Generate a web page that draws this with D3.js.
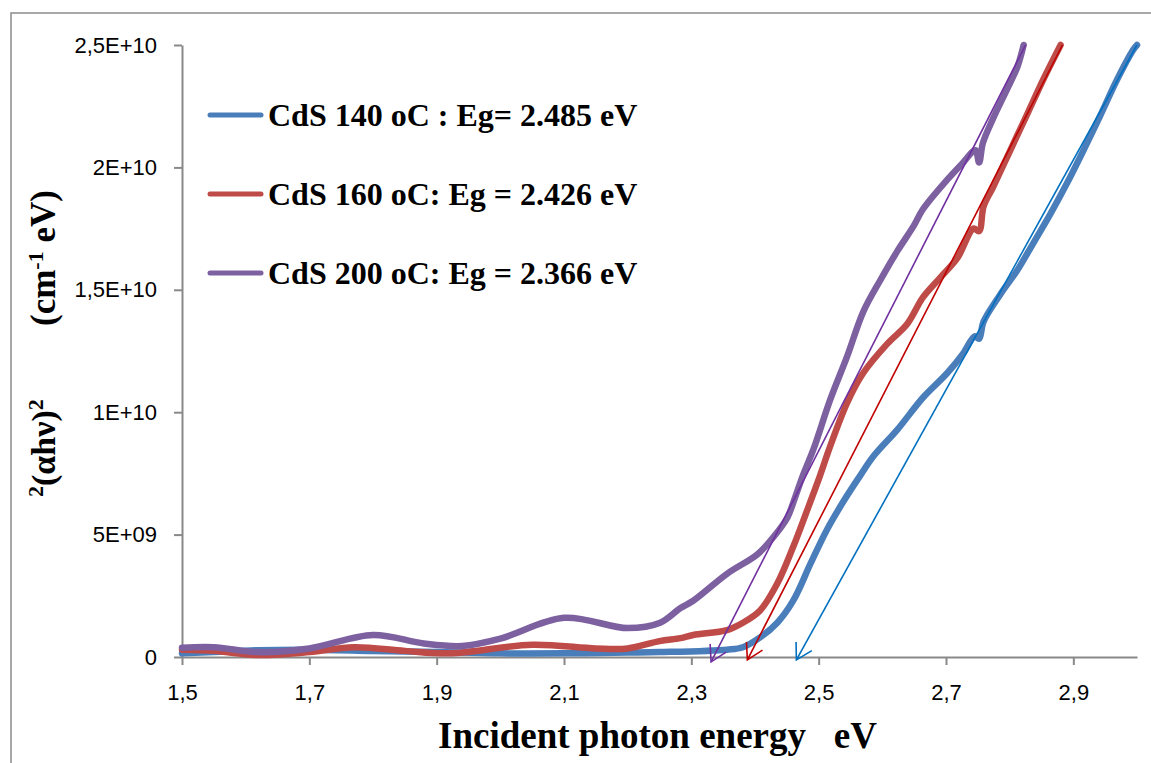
<!DOCTYPE html>
<html>
<head>
<meta charset="utf-8">
<script src="https://cdn.jsdelivr.net/npm/d3@7"></script>
<style>
  html, body { margin: 0; padding: 0; background: #fff; }
  svg { display: block; }
</style>
</head>
<body>
<svg id="chart" width="1151" height="763"></svg>
<script>
// ---------------- DATA ----------------
const seriesNames = ["CdS 140 oC : Eg= 2.485 eV", "CdS 160 oC: Eg = 2.426 eV", "CdS 200 oC: Eg = 2.366 eV"];
const seriesColors = ["#4A7EBB", "#BE4B48", "#7D60A0"];

// CdS 140 oC
const energy140 = [1.50,1.55,1.62,1.70,1.80,1.90,2.00,2.10,2.20,2.25,2.356,2.381,2.408,2.435,2.46,2.487,2.513,2.54,2.565,2.586,2.624,2.664,2.702,2.727,2.745,2.752,2.759,2.785,2.812,2.837,2.864,2.891,2.916,2.942,2.969,2.994,3.0];
const alpha140  = [1.5e8,2.0e8,2.8e8,3.0e8,2.5e8,2.0e8,1.5e8,1.5e8,1.8e8,2.0e8,3.0e8,4.0e8,8.0e8,1.4e9,2.3e9,3.8e9,5.2e9,6.4e9,7.4e9,8.2e9,9.3e9,1.06e10,1.16e10,1.24e10,1.31e10,1.30e10,1.37e10,1.48e10,1.58e10,1.69e10,1.81e10,1.94e10,2.07e10,2.21e10,2.36e10,2.48e10,2.5e10];

// CdS 160 oC
const energy160 = [1.50,1.55,1.62,1.70,1.77,1.85,1.92,2.05,2.15,2.20,2.25,2.283,2.303,2.356,2.381,2.408,2.435,2.46,2.482,2.502,2.518,2.545,2.57,2.608,2.639,2.664,2.691,2.718,2.743,2.752,2.759,2.774,2.801,2.828,2.853,2.88];
const alpha160  = [3.0e8,2.5e8,0.8e8,2.0e8,4.0e8,2.5e8,1.5e8,5.0e8,3.5e8,3.5e8,6.5e8,7.7e8,9.0e8,1.1e9,1.4e9,1.9e9,3.0e9,4.5e9,6.0e9,7.4e9,8.6e9,1.04e10,1.16e10,1.28e10,1.36e10,1.47e10,1.55e10,1.63e10,1.75e10,1.74e10,1.84e10,1.92e10,2.07e10,2.22e10,2.36e10,2.5e10];

// CdS 200 oC
const energy200 = [1.50,1.55,1.62,1.70,1.80,1.88,1.94,2.00,2.10,2.20,2.251,2.283,2.303,2.356,2.404,2.429,2.451,2.46,2.475,2.492,2.518,2.545,2.57,2.597,2.624,2.649,2.664,2.702,2.727,2.746,2.752,2.758,2.774,2.796,2.812,2.822];
const alpha200  = [3.8e8,4.0e8,2.0e8,3.5e8,9.0e8,5.5e8,4.5e8,7.5e8,1.6e9,1.18e9,1.4e9,2.0e9,2.3e9,3.4e9,4.2e9,4.9e9,5.7e9,6.3e9,7.4e9,8.5e9,1.05e10,1.23e10,1.41e10,1.54e10,1.66e10,1.76e10,1.83e10,1.95e10,2.02e10,2.07e10,2.02e10,2.10e10,2.20e10,2.32e10,2.41e10,2.5e10];

// Tangent (extrapolation) arrows: [energy, value] start -> end
const tangentColors = ["#0070C0", "#C00000", "#7030A0"];
const tangentStartE = [3.0, 2.883, 2.825];
const tangentStartV = [2.5e10, 2.5e10, 2.5e10];
const tangentEndE   = [2.465, 2.388, 2.331];
const tangentEndV   = [-1.2e8, -1.2e8, -2.0e8];

const xTicks = [1.5,1.7,1.9,2.1,2.3,2.5,2.7,2.9];
const xTickLabels = ["1,5","1,7","1,9","2,1","2,3","2,5","2,7","2,9"];
const yTicks = [0,5e9,1e10,1.5e10,2e10,2.5e10];
const yTickLabels = ["0","5E+09","1E+10","1,5E+10","2E+10","2,5E+10"];

// ---------------- CHART ----------------
const svg = d3.select("#chart");
const axisColor = "#898989";

// outer frame
svg.append("rect")
  .attr("x", 11).attr("y", 13).attr("width", 1200).attr("height", 800)
  .attr("fill", "none").attr("stroke", "#8c8c8c").attr("stroke-width", 1.5);

const x = d3.scaleLinear().domain([1.5, 3.0]).range([182, 1137]);
const y = d3.scaleLinear().domain([0, 2.5e10]).range([657, 45]);

const tickFont = "'Liberation Sans', Arial, sans-serif";

// y axis
const yAxis = svg.append("g").attr("transform", `translate(${x(1.5)},0)`)
  .call(d3.axisLeft(y).tickValues(yTicks).tickFormat((d, i) => yTickLabels[i])
    .tickSize(8).tickSizeOuter(0).tickPadding(17));
// x axis
const xAxis = svg.append("g").attr("transform", `translate(0,${y(0)})`)
  .call(d3.axisBottom(x).tickValues(xTicks).tickFormat((d, i) => xTickLabels[i])
    .tickSize(8).tickSizeOuter(0).tickPadding(19));

[xAxis, yAxis].forEach(g => {
  g.attr("font-size", null).attr("font-family", null);
  g.select(".domain").attr("stroke", axisColor).attr("stroke-width", 2);
  g.selectAll(".tick line").attr("stroke", axisColor).attr("stroke-width", 2);
  g.selectAll(".tick text").attr("fill", "#000")
    .style("font-family", tickFont).style("font-size", "22px");
});

// series
const seriesData = [
  energy140.map((e, i) => [e, alpha140[i]]),
  energy160.map((e, i) => [e, alpha160[i]]),
  energy200.map((e, i) => [e, alpha200[i]])
];
const line = d3.line().x(d => x(d[0])).y(d => y(d[1])).curve(d3.curveCatmullRom.alpha(0.5));

svg.append("g").selectAll("path").data(seriesData).join("path")
  .attr("d", line)
  .attr("fill", "none")
  .attr("stroke", (d, i) => seriesColors[i])
  .attr("stroke-width", 6.5)
  .attr("stroke-linejoin", "round")
  .attr("stroke-linecap", "round");

// arrow markers
const defs = svg.append("defs");
tangentColors.forEach((c, i) => {
  defs.append("marker")
    .attr("id", "arrow" + i)
    .attr("markerUnits", "userSpaceOnUse")
    .attr("viewBox", "-20 -12 24 24")
    .attr("refX", 0).attr("refY", 0)
    .attr("markerWidth", 24).attr("markerHeight", 24)
    .attr("orient", "auto")
    .append("path")
    .attr("d", "M-15.6,-9 L0,0 L-15.6,9")
    .attr("fill", "none").attr("stroke", c).attr("stroke-width", 1.6);
});

svg.append("g").selectAll("line").data(tangentColors).join("line")
  .attr("x1", (d, i) => x(tangentStartE[i]))
  .attr("y1", (d, i) => y(tangentStartV[i]))
  .attr("x2", (d, i) => x(tangentEndE[i]))
  .attr("y2", (d, i) => y(tangentEndV[i]))
  .attr("stroke", d => d)
  .attr("stroke-width", 1.6)
  .attr("marker-end", (d, i) => `url(#arrow${i})`);

// legend
const serif = "'Liberation Serif', 'Times New Roman', serif";
const legendY = [115, 194, 273];
const lg = svg.append("g");
seriesNames.forEach((name, i) => {
  lg.append("line")
    .attr("x1", 210).attr("x2", 261)
    .attr("y1", legendY[i]).attr("y2", legendY[i])
    .attr("stroke", seriesColors[i]).attr("stroke-width", 5)
    .attr("stroke-linecap", "round");
  lg.append("text")
    .attr("x", 268).attr("y", legendY[i] + 11)
    .style("font-family", serif).style("font-weight", "bold").style("font-size", "32px")
    .attr("fill", "#000")
    .text(name);
});

// x title
svg.append("text")
  .attr("x", 438).attr("y", 748)
  .attr("xml:space", "preserve")
  .style("white-space", "pre")
  .style("font-family", serif).style("font-weight", "bold").style("font-size", "37px")
  .attr("fill", "#000")
  .text("Incident photon energy   eV");

// y title (rotated)
const yt = svg.append("g").attr("transform", "rotate(-90)");
const t1 = yt.append("text").attr("x", -497).attr("y", 55)
  .style("font-family", serif).style("font-weight", "bold").style("font-size", "34px").attr("fill", "#000");
t1.append("tspan").style("font-size", "22px").attr("dy", -12).text("2");
t1.append("tspan").attr("dy", 12).text("(αhν)");
t1.append("tspan").style("font-size", "22px").attr("dy", -12).text("2");

const t2 = yt.append("text").attr("x", -326).attr("y", 55)
  .style("font-family", serif).style("font-weight", "bold").style("font-size", "35px").attr("fill", "#000");
t2.append("tspan").text("(cm");
t2.append("tspan").style("font-size", "22px").attr("dy", -12).text("-1");
t2.append("tspan").attr("dy", 12).text(" eV)");
</script>
</body>
</html>
